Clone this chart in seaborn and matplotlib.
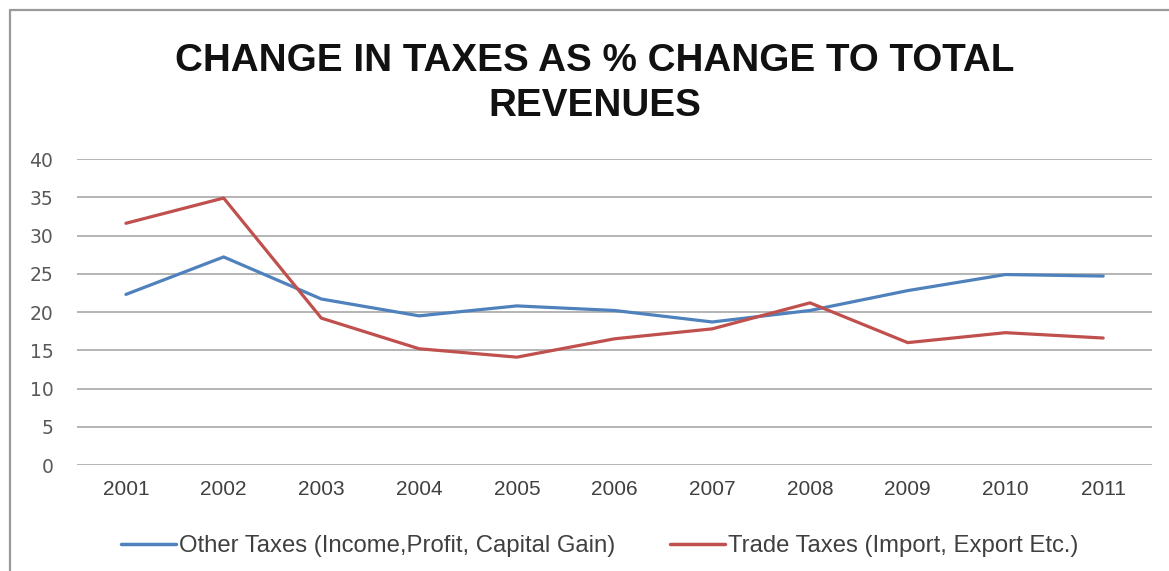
import matplotlib
matplotlib.use("Agg")
import matplotlib.pyplot as plt
from matplotlib.lines import Line2D
import seaborn as sns
import pandas as pd

years = ["2001", "2002", "2003", "2004", "2005", "2006",
         "2007", "2008", "2009", "2010", "2011"]
other_taxes = [22.3, 27.2, 21.7, 19.5, 20.8, 20.2, 18.7, 20.2, 22.8, 24.9, 24.7]
trade_taxes = [31.6, 34.9, 19.2, 15.2, 14.1, 16.5, 17.8, 21.2, 16.0, 17.3, 16.6]
series_names = ["Other Taxes (Income,Profit, Capital Gain)",
                "Trade Taxes (Import, Export Etc.)"]
y_ticks = [0, 5, 10, 15, 20, 25, 30, 35, 40]

colors = ["#4F81BD", "#C0504D"]
label_font = ["Liberation Sans", "DejaVu Sans"]

df = pd.DataFrame({
    "year": years * 2,
    "value": other_taxes + trade_taxes,
    "series": [series_names[0]] * len(years) + [series_names[1]] * len(years),
})

sns.set_theme(style="white")
plt.rcParams["font.family"] = ["DejaVu Sans"]

fig = plt.figure(figsize=(11.69, 5.71), dpi=100)
ax = fig.add_axes([0.0659, 0.1856, 0.9196, 0.5359])

sns.lineplot(data=df, x="year", y="value", hue="series",
             palette=colors, linewidth=2.3, sort=False,
             legend=False, ax=ax)

ax.set_xlim(-0.5, len(years) - 0.5)
ax.set_ylim(0, 40)
ax.set_yticks(y_ticks)
ax.set_yticklabels([str(t) for t in y_ticks], fontsize=13.5, color="#595959")
ax.set_xticks(range(len(years)))
ax.set_xticklabels(years, fontsize=15, color="#404040", family=label_font)
ax.tick_params(axis="y", length=0, pad=17)
ax.tick_params(axis="x", length=0, pad=11)
ax.set_xlabel("")
ax.set_ylabel("")
for s in ax.spines.values():
    s.set_visible(False)
for t in y_ticks:
    ax.axhline(t, color="#b4b4b4", linewidth=1.4, zorder=0)

fig.text(0.509, 0.893, "CHANGE IN TAXES AS % CHANGE TO TOTAL", ha="center",
         va="center", fontsize=27.8, fontweight="bold", family=label_font,
         color="#111111")
fig.text(0.509, 0.815, "REVENUES", ha="center", va="center", fontsize=27.8,
         fontweight="bold", family=label_font, color="#111111")

handles = [Line2D([0], [0], color=c, linewidth=2.5) for c in colors]
leg = fig.legend(handles, series_names, loc="center", ncol=2,
                 bbox_to_anchor=(0.513, 0.044), frameon=False,
                 prop={"family": label_font, "size": 17.2},
                 handlelength=2.3, handletextpad=0.12, columnspacing=2.3)
for t in leg.get_texts():
    t.set_color("#404040")

# outer chart frame (left and top edges)
fig.add_artist(Line2D([0.0085, 0.0085], [0.0, 0.982], color="#9a9a9a",
                      linewidth=1.6, transform=fig.transFigure))
fig.add_artist(Line2D([0.0085, 1.0], [0.982, 0.982], color="#9a9a9a",
                      linewidth=1.6, transform=fig.transFigure))

fig.savefig("out.png", dpi=100, facecolor="white")
